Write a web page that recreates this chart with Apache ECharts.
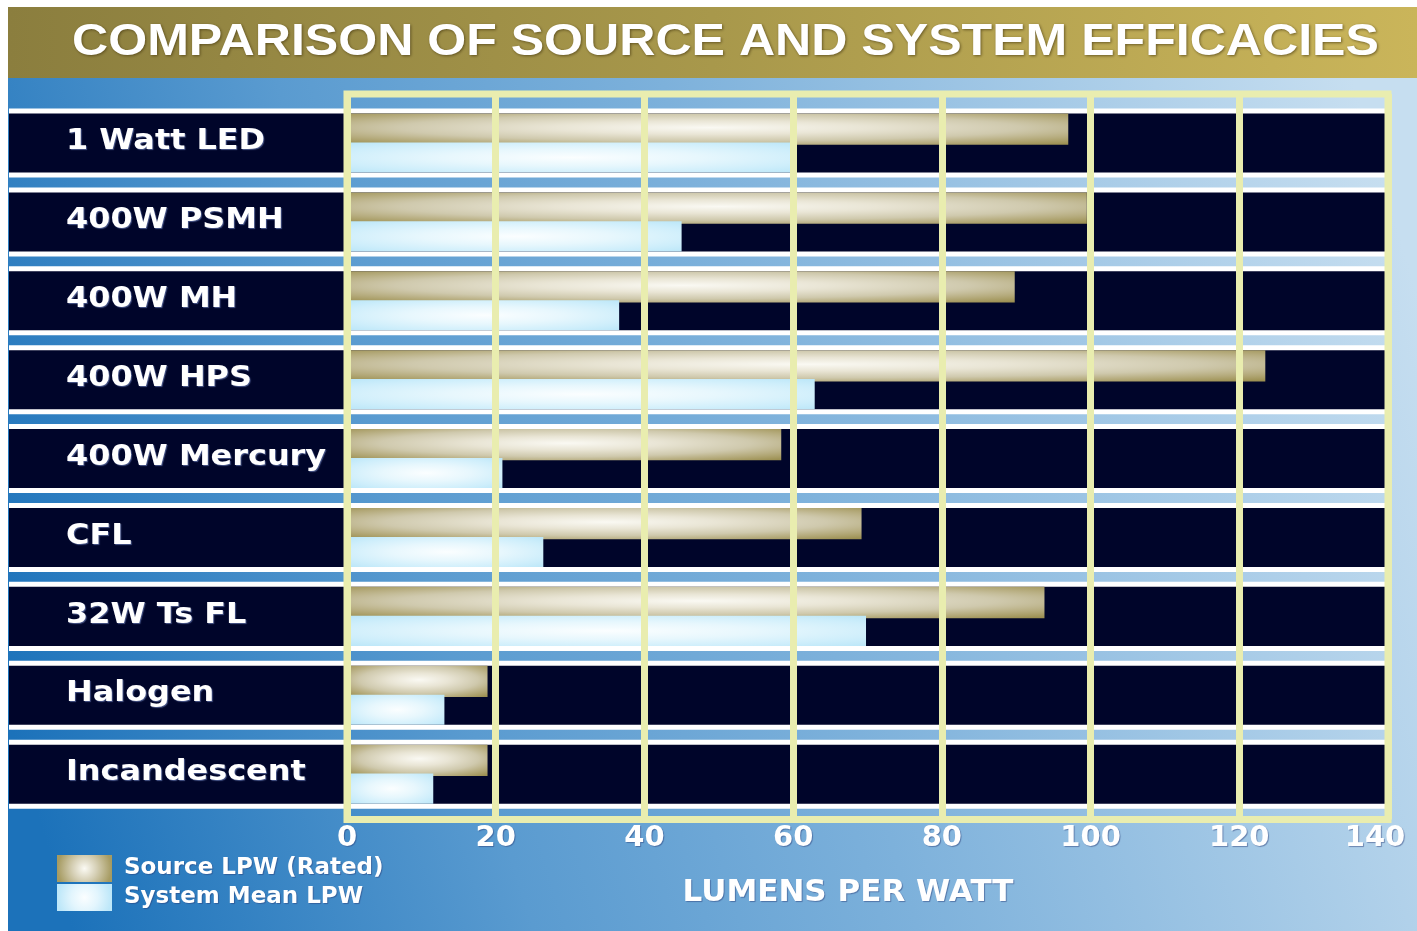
<!DOCTYPE html>
<html><head><meta charset="utf-8">
<script src="https://cdn.jsdelivr.net/npm/echarts@6/dist/echarts.min.js"></script>
<style>html,body{margin:0;padding:0;background:#fff;} #c{width:1417px;height:931px;}</style>
</head><body><div id="c"></div>
<script>
const categories = ['1 Watt LED','400W PSMH','400W MH','400W HPS','400W Mercury','CFL','32W Ts FL','Halogen','Incandescent'];
const sourceLPW = [97.0, 99.5, 89.8, 123.5, 58.4, 69.2, 93.8, 18.9, 18.9];
const systemLPW = [60.0, 45.0, 36.6, 62.9, 20.9, 26.4, 69.8, 13.1, 11.6];
const xTicks = [0, 20, 40, 60, 80, 100, 120, 140];
const seriesNames = ['Source LPW (Rated)', 'System Mean LPW'];
const titleText = 'COMPARISON OF SOURCE AND SYSTEM EFFICACIES';
const axisTitle = 'LUMENS PER WATT';

const YEL = '#E9EDAF';
const NAVY = '#00052A';
const xMin = xTicks[0], xMax = xTicks[xTicks.length - 1], xStep = xTicks[1] - xTicks[0];

function srcGrad() {
  return new echarts.graphic.RadialGradient(0.5, 0.45, 0.72, [
    {offset: 0, color: '#FAF9F3'},
    {offset: 0.3, color: '#E9E5D5'},
    {offset: 0.6, color: '#CFC9AD'},
    {offset: 0.74, color: '#BDB48B'},
    {offset: 0.87, color: '#ADA26E'},
    {offset: 1, color: '#9C9052'}
  ]);
}
function sysGrad() {
  return new echarts.graphic.RadialGradient(0.5, 0.5, 0.72, [
    {offset: 0, color: '#FBFEFF'},
    {offset: 0.4, color: '#E7F7FD'},
    {offset: 0.75, color: '#CEEEFB'},
    {offset: 1, color: '#BAE6F8'}
  ]);
}

const chart = echarts.init(document.getElementById('c'), null, {renderer: 'canvas'});

function renderRow(params, api) {
  const ci = api.value(1);
  const c = api.coord([xMin, ci]);
  const right = api.coord([xMax, ci])[0];
  const band = api.size([0, 1])[1];
  const wh = band * 0.875, nh = band * 0.748;
  const left = 9;
  return {
    type: 'group',
    children: [
      {type: 'rect', shape: {x: left, y: c[1] - wh / 2, width: right - left, height: wh}, style: {fill: '#FFFFFF'}},
      {type: 'rect', shape: {x: left, y: c[1] - nh / 2, width: right - left - 3, height: nh}, style: {fill: NAVY}},
      {type: 'text', x: 66, y: c[1] - 1, scaleX: 1.16,
        style: {text: categories[params.dataIndex], fill: '#FFFFFF', font: 'bold 27.5px "DejaVu Sans"',
          verticalAlign: 'middle', align: 'left', textShadowColor: 'rgba(120,140,200,0.6)', textShadowBlur: 1, textShadowOffsetX: 1, textShadowOffsetY: 1}}
    ]
  };
}

function makeBarRender(kind) {
  return function (params, api) {
    const val = api.value(0), ci = api.value(1);
    const p0 = api.coord([xMin, ci]);
    const p1 = api.coord([val, ci]);
    const band = api.size([0, 1])[1];
    const nh = band * 0.748;
    const top = p0[1] - nh / 2;
    let y, h;
    if (kind === 0) { y = top; h = nh * 0.53; } else { y = top + nh * 0.49; h = nh * 0.51; }
    const x0 = p0[0] + 3.5;
    const w = Math.max(1, p1[0] - x0);
    return {
      type: 'rect', x: x0, y: y, scaleX: w / h,
      shape: {x: 0, y: 0, width: h, height: h},
      style: {fill: kind === 0 ? srcGrad() : sysGrad()}
    };
  };
}

const labelFont = {color: '#FFFFFF', fontFamily: 'DejaVu Sans', fontWeight: 'bold', fontSize: 29,
  textShadowColor: 'rgba(40,60,120,0.5)', textShadowBlur: 1, textShadowOffsetX: 1, textShadowOffsetY: 1};

const option = {
  animation: false,
  graphic: [
    {type: 'rect', z: -10, shape: {x: 8, y: 78, width: 1409, height: 853},
      style: {fill: new echarts.graphic.LinearGradient(0, 0.75, 1, 0.25, [
        {offset: 0, color: '#1C72BA'}, {offset: 0.3, color: '#5A9BD0'}, {offset: 0.55, color: '#7DB1DB'}, {offset: 1, color: '#C6DEF0'}])}},
    {type: 'rect', z: -10, shape: {x: 8, y: 7, width: 1409, height: 71},
      style: {fill: new echarts.graphic.LinearGradient(0, 0, 1, 0, [
        {offset: 0, color: '#8B7E3E'}, {offset: 0.5, color: '#A8984B'}, {offset: 1, color: '#CAB55A'}])}},
    {type: 'text', z: 5, x: 72, y: 43, scaleX: 1.113,
      style: {text: titleText, fill: '#FFFFFF', font: 'bold 45px "Liberation Sans"', verticalAlign: 'middle', align: 'left',
        textShadowColor: 'rgba(70,55,15,0.7)', textShadowBlur: 3, textShadowOffsetX: 1, textShadowOffsetY: 1}},
    {type: 'text', z: 5, x: 848, y: 893,
      style: {text: axisTitle, fill: '#FFFFFF', font: 'bold 31px "DejaVu Sans"', verticalAlign: 'middle', align: 'center',
        textShadowColor: 'rgba(40,60,120,0.5)', textShadowBlur: 1, textShadowOffsetX: 1, textShadowOffsetY: 1}}
  ],
  legend: {
    orient: 'vertical', left: 52, top: 850, itemWidth: 55, itemHeight: 27, itemGap: 2, icon: 'rect',
    data: [
      {name: seriesNames[0], itemStyle: {color: new echarts.graphic.RadialGradient(0.5, 0.5, 1.0, [
        {offset: 0, color: '#FBFAF4'}, {offset: 0.45, color: '#D6D0B6'}, {offset: 1, color: '#A69B62'}])}},
      {name: seriesNames[1], itemStyle: {color: new echarts.graphic.RadialGradient(0.5, 0.5, 1.0, [
        {offset: 0, color: '#FBFEFF'}, {offset: 0.5, color: '#E2F5FD'}, {offset: 1, color: '#BDE7F9'}])}}
    ],
    textStyle: {color: '#FFFFFF', fontFamily: 'DejaVu Sans', fontWeight: 'bold', fontSize: 23, padding: [0, 0, 0, 7],
      textShadowColor: 'rgba(40,60,120,0.5)', textShadowBlur: 1, textShadowOffsetX: 1, textShadowOffsetY: 1},
    selectedMode: false
  },
  grid: [
    {left: 347, right: 29, top: 103.6, height: 710, show: false},
    {left: 347, right: 29, top: 94, height: 725.5, show: true, borderColor: YEL, borderWidth: 7, backgroundColor: 'transparent', z: 10}
  ],
  xAxis: [
    {gridIndex: 0, type: 'value', min: xMin, max: xMax, interval: xStep, show: false},
    {gridIndex: 1, type: 'value', min: xMin, max: xMax, interval: xStep, z: 10,
      axisLine: {show: false}, axisTick: {show: false},
      splitLine: {show: true, lineStyle: {color: YEL, width: 7}},
      axisLabel: {margin: 4, ...labelFont,
        formatter: function (v) { return v === xMax ? '{last|' + v + '}' : '{n|' + v + '}'; },
        rich: {n: {...labelFont}, last: {...labelFont, padding: [0, 26, 0, 0]}}}}
  ],
  yAxis: [
    {gridIndex: 0, type: 'category', data: categories, inverse: true, show: false},
    {gridIndex: 1, type: 'value', min: 0, max: 1, show: false}
  ],
  series: [
    {type: 'custom', name: 'rows', xAxisIndex: 0, yAxisIndex: 0, z: 2, silent: true,
      renderItem: renderRow, encode: {x: 0, y: 1},
      data: categories.map(function (c) { return [xMin, c]; })},
    {type: 'custom', name: seriesNames[0], xAxisIndex: 0, yAxisIndex: 0, z: 3,
      itemStyle: {color: '#C9C19E'},
      renderItem: makeBarRender(0), encode: {x: 0, y: 1},
      data: sourceLPW.map(function (v, i) { return [v, categories[i]]; })},
    {type: 'custom', name: seriesNames[1], xAxisIndex: 0, yAxisIndex: 0, z: 4,
      itemStyle: {color: '#D6F1FC'},
      renderItem: makeBarRender(1), encode: {x: 0, y: 1},
      data: systemLPW.map(function (v, i) { return [v, categories[i]]; })}
  ]
};
chart.setOption(option);
</script>
</body></html>
